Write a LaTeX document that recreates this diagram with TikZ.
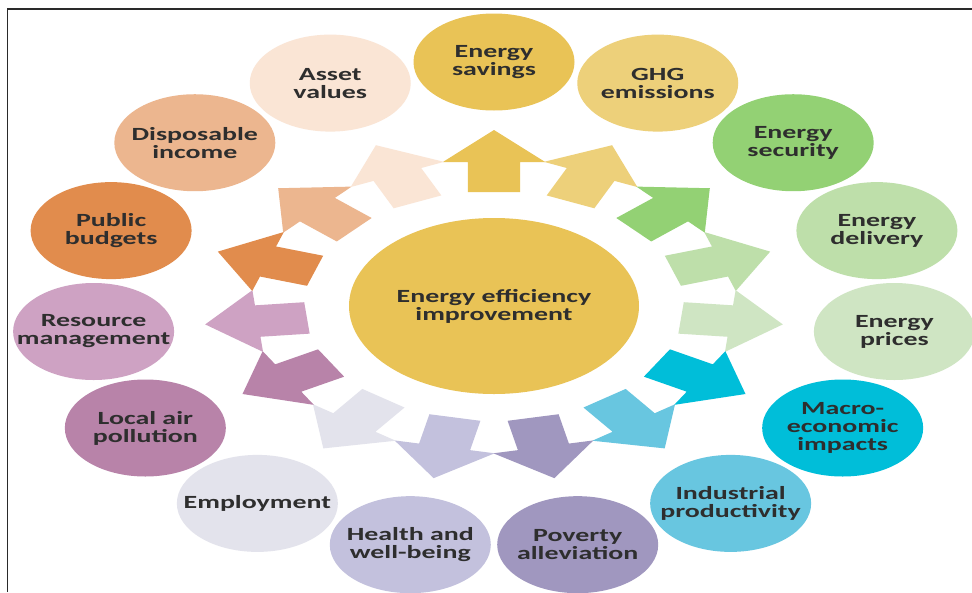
\documentclass[tikz,border=0pt]{standalone}
\usepackage{fontspec}
\newfontfamily\lbl{Carlito}[FakeStretch=1.5]
\usetikzlibrary{shapes.geometric}
\definecolor{cES}{HTML}{E9C356}
\definecolor{cGHG}{HTML}{EDD07A}
\definecolor{cSec}{HTML}{93D174}
\definecolor{cDel}{HTML}{BEDFAA}
\definecolor{cPri}{HTML}{CFE5C3}
\definecolor{cMac}{HTML}{00BED9}
\definecolor{cInd}{HTML}{68C6E0}
\definecolor{cPov}{HTML}{A097BF}
\definecolor{cHea}{HTML}{C3C1DD}
\definecolor{cEmp}{HTML}{E3E3EC}
\definecolor{cAir}{HTML}{B883A9}
\definecolor{cRes}{HTML}{CEA2C3}
\definecolor{cPub}{HTML}{E18C4D}
\definecolor{cDis}{HTML}{ECB68F}
\definecolor{cAss}{HTML}{FAE5D5}
\definecolor{txt}{HTML}{2E2E2E}
\definecolor{frm}{HTML}{2A2A2A}
\newcommand\lblfont{\lbl\bfseries\fontsize{18.6pt}{18pt}\selectfont}
\begin{document}
\begin{tikzpicture}[x=1pt,y=1pt,
  lab/.style={inner sep=0pt, align=center, font=\lblfont, text=txt},
  frame/.style={draw=frm, line width=1.4pt}]
\useasboundingbox (0,0) rectangle (972,-592);
\fill[white] (0,0) rectangle (972,-592);
\draw[frame] (7.5,-592) -- (7.5,-9) -- (972,-9);
\foreach \ang/\col/\nm/\txtl in {
  90/cES/es/{Energy\\savings},
  66/cGHG/ghg/{GHG\\emissions},
  42/cSec/sec/{Energy\\security},
  18/cDel/del/{Energy\\delivery},
  -6/cPri/pri/{Energy\\prices},
  -30/cMac/mac/{Macro-\\economic\\impacts},
  -54/cInd/ind/{Industrial\\productivity},
  -78/cPov/pov/{Poverty\\alleviation},
  -102/cHea/hea/{Health and\\well-being},
  -126/cEmp/emp/{Employment},
  -150/cAir/air/{Local air\\pollution},
  -174/cRes/res/{Resource\\management},
  162/cPub/pub/{Public\\budgets},
  138/cDis/dis/{Disposable\\income},
  114/cAss/ass/{Asset\\values}}{
  \begin{scope}[shift={(494,-306)}, xscale=1.65, rotate=\ang]
    \fill[\col] (114,-15.8) -- (144,-15.8) -- (144,-31) -- (176,0) -- (144,31)
      -- (144,15.8) -- (114,15.8) -- cycle;
  \end{scope}
  \fill[\col] ({494+1.65*244*cos(\ang)}, {-306+244*sin(\ang)}) ellipse [x radius=80.5, y radius=48.5];
  \node[lab] (\nm) at ({494+1.65*244*cos(\ang)}, {-306+244*sin(\ang)}) {\txtl};
}
\fill[cES] (494,-306) ellipse [x radius=145, y radius=88];
\node[lab] (center) at (494,-306) {Energy efficiency\\improvement};
\end{tikzpicture}
\end{document}
